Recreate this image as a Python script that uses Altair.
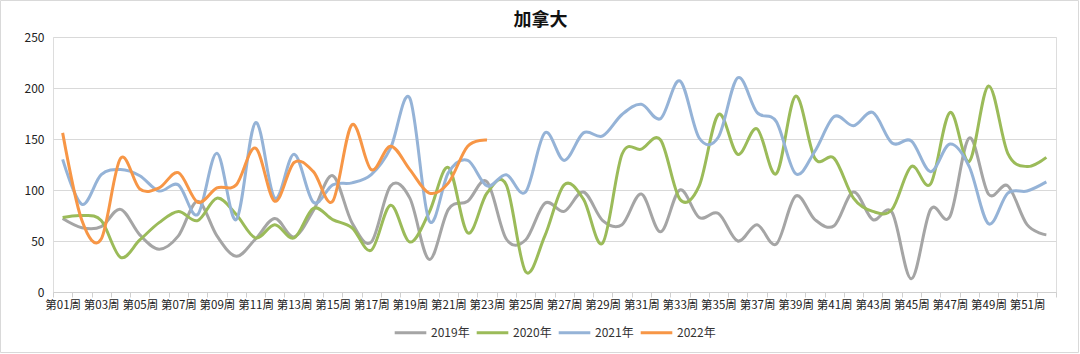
import altair as alt
import pandas as pd

weeks = [f"第{i:02d}周" for i in range(1, 53)]

y2019 = [72, 63, 64, 81, 56, 42, 55, 89, 55, 35, 52, 72, 54, 80, 114, 68, 49, 104, 92, 32,
         81, 89, 108, 52, 51, 87, 79, 98, 70, 66, 96, 59, 100, 73, 77, 50, 66, 47, 94, 71,
         65, 98, 71, 78, 13, 81, 74, 151, 96, 104, 66, 56]
y2020 = [73, 75, 70, 34, 51, 68, 79, 70, 92, 76, 53, 66, 53, 82, 71, 63, 41, 85, 49, 78,
         122, 58, 97, 105, 20, 55, 105, 91, 48, 135, 140, 149, 91, 104, 174, 135, 160, 116, 192, 131,
         131, 92, 79, 81, 123, 106, 176, 128, 202, 136, 123, 132]
y2021 = [130, 86, 115, 120, 114, 99, 105, 76, 136, 71, 166, 92, 135, 88, 105, 107, 115, 141, 190, 70,
         117, 129, 104, 115, 98, 156, 129, 156, 153, 174, 184, 170, 207, 151, 152, 210, 176, 167, 116, 138,
         172, 163, 176, 146, 148, 118, 145, 123, 67, 97, 99, 108]
y2022 = [156, 70, 52, 131, 101, 102, 117, 88, 102, 105, 141, 89, 127, 118, 89, 164, 120, 143, 120, 97,
         107, 143, 149]

series = {"2019年": y2019, "2020年": y2020, "2021年": y2021, "2022年": y2022}
colors = ["#A5A5A5", "#9BBB59", "#95B3D7", "#F79646"]

rows = []
for name, vals in series.items():
    for w, v in zip(weeks, vals):
        rows.append({"week": w, "year": name, "value": v})
df = pd.DataFrame(rows)

font = "Noto Sans CJK SC"

lines = alt.Chart(df).mark_line(interpolate="cardinal", strokeWidth=3).encode(
    x=alt.X("week:N", sort=weeks, title=None,
            scale=alt.Scale(domain=weeks, paddingInner=0, paddingOuter=0),
            axis=alt.Axis(labelAngle=0, labelOverlap=False, labelBound=False,
                          labelExpr="toNumber(substring(datum.value,1,3)) % 2 == 1 ? datum.value : ''",
                          tickBand="extent", tickSize=5, tickColor="#D0D0D0",
                          domainColor="#D0D0D0", labelPadding=2, labelFontSize=11.5,
                          labelColor="#222222", labelFont=font, grid=False)),
    y=alt.Y("value:Q", title=None,
            scale=alt.Scale(domain=[0, 250], nice=False),
            axis=alt.Axis(values=[0, 50, 100, 150, 200, 250], ticks=False, domain=False,
                          gridColor="#D9D9D9", labelPadding=9, labelFontSize=12,
                          labelColor="#222222", labelFont=font)),
    color=alt.Color("year:N", sort=list(series.keys()),
                    scale=alt.Scale(domain=list(series.keys()), range=colors),
                    legend=alt.Legend(title=None, orient="none", direction="horizontal",
                                      legendX=340, legendY=278, symbolType="stroke",
                                      symbolSize=1000, symbolStrokeWidth=3,
                                      labelFontSize=12, labelFont=font, labelColor="#333333",
                                      columnPadding=0, labelOffset=3)),
)

border = alt.Chart(pd.DataFrame({"b": [0]})).mark_rect(
    filled=False, stroke="#D9D9D9", strokeWidth=1
).encode(
    x=alt.value(-52.5), x2=alt.value(1025.5), y=alt.value(-36.5), y2=alt.value(315.5)
)

chart = alt.layer(border, lines).properties(
    width=1003, height=255,
    title=alt.TitleParams("加拿大", font=font, fontSize=18, fontWeight="bold",
                          color="#111111", anchor="middle", dx=-14, offset=-30),
    autosize=alt.AutoSizeParams(type="none"),
    padding={"left": 53, "top": 37, "right": 24, "bottom": 62},
).configure_view(stroke=None).configure(background="white")

chart.save("out.html", embed_options={"renderer": "svg", "actions": False})
